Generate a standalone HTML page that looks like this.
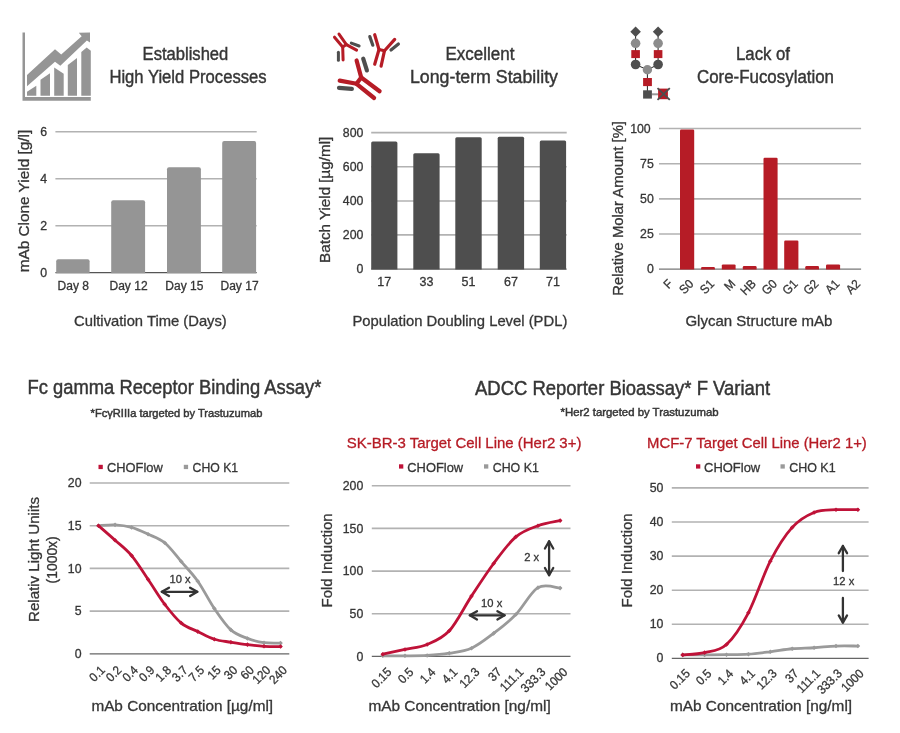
<!DOCTYPE html>
<html><head><meta charset="utf-8"><title>CHOFlow</title>
<style>
html,body{margin:0;padding:0;background:#fff;}
body{width:900px;height:733px;overflow:hidden;font-family:"Liberation Sans",sans-serif;}
svg{display:block;will-change:transform;}
svg text{font-family:"Liberation Sans",sans-serif;}
</style></head><body>
<svg width="900" height="733" viewBox="0 0 900 733">
<rect width="900" height="733" fill="#ffffff"/>
<text x="142.60" y="59.50" font-size="18" fill="#363636" stroke="#363636" stroke-width="0.42" textLength="85.70" lengthAdjust="spacingAndGlyphs">Established</text>
<text x="109.40" y="83.00" font-size="18" fill="#363636" stroke="#363636" stroke-width="0.42" textLength="157.20" lengthAdjust="spacingAndGlyphs">High Yield Processes</text>
<text x="445.50" y="59.50" font-size="18" fill="#363636" stroke="#363636" stroke-width="0.42" textLength="69.00" lengthAdjust="spacingAndGlyphs">Excellent</text>
<text x="410.00" y="83.00" font-size="18" fill="#363636" stroke="#363636" stroke-width="0.42" textLength="148.00" lengthAdjust="spacingAndGlyphs">Long-term Stability</text>
<text x="736.00" y="59.50" font-size="18" fill="#363636" stroke="#363636" stroke-width="0.42" textLength="54.00" lengthAdjust="spacingAndGlyphs">Lack of</text>
<text x="697.00" y="83.00" font-size="18" fill="#363636" stroke="#363636" stroke-width="0.42" textLength="137.00" lengthAdjust="spacingAndGlyphs">Core-Fucosylation</text>
<line x1="55.40" y1="131.80" x2="256.70" y2="131.80" stroke="#b2b2b2" stroke-width="1.6"/>
<line x1="55.40" y1="178.80" x2="256.70" y2="178.80" stroke="#b2b2b2" stroke-width="1.6"/>
<line x1="55.40" y1="225.80" x2="256.70" y2="225.80" stroke="#b2b2b2" stroke-width="1.6"/>
<line x1="55.40" y1="272.60" x2="256.70" y2="272.60" stroke="#555" stroke-width="1.2"/>
<path d="M56.20,273.20 L56.20,261.30 Q56.20,259.30 58.20,259.30 L87.60,259.30 Q89.60,259.30 89.60,261.30 L89.60,273.20 Z" fill="#959595"/>
<path d="M111.20,273.20 L111.20,202.30 Q111.20,200.30 113.20,200.30 L143.10,200.30 Q145.10,200.30 145.10,202.30 L145.10,273.20 Z" fill="#959595"/>
<path d="M167.00,273.20 L167.00,169.20 Q167.00,167.20 169.00,167.20 L198.90,167.20 Q200.90,167.20 200.90,169.20 L200.90,273.20 Z" fill="#959595"/>
<path d="M222.20,273.20 L222.20,143.00 Q222.20,141.00 224.20,141.00 L254.10,141.00 Q256.10,141.00 256.10,143.00 L256.10,273.20 Z" fill="#959595"/>
<text x="47.20" y="135.90" font-size="12.3" fill="#363636" stroke="#363636" stroke-width="0.3" text-anchor="end">6</text>
<text x="47.20" y="182.90" font-size="12.3" fill="#363636" stroke="#363636" stroke-width="0.3" text-anchor="end">4</text>
<text x="47.20" y="229.90" font-size="12.3" fill="#363636" stroke="#363636" stroke-width="0.3" text-anchor="end">2</text>
<text x="47.20" y="276.90" font-size="12.3" fill="#363636" stroke="#363636" stroke-width="0.3" text-anchor="end">0</text>
<text x="73.30" y="290.20" font-size="12" fill="#363636" stroke="#363636" stroke-width="0.3" text-anchor="middle">Day 8</text>
<text x="128.55" y="290.20" font-size="12" fill="#363636" stroke="#363636" stroke-width="0.3" text-anchor="middle">Day 12</text>
<text x="184.35" y="290.20" font-size="12" fill="#363636" stroke="#363636" stroke-width="0.3" text-anchor="middle">Day 15</text>
<text x="239.55" y="290.20" font-size="12" fill="#363636" stroke="#363636" stroke-width="0.3" text-anchor="middle">Day 17</text>
<text transform="translate(28.60,272.30) rotate(-90)" font-size="14.5" fill="#363636" stroke="#363636" stroke-width="0.3" textLength="142.50" lengthAdjust="spacingAndGlyphs">mAb Clone Yield [g/l]</text>
<text x="74.10" y="326.00" font-size="14.5" fill="#363636" stroke="#363636" stroke-width="0.3" textLength="152.70" lengthAdjust="spacingAndGlyphs">Cultivation Time (Days)</text>
<line x1="371.20" y1="132.60" x2="566.70" y2="132.60" stroke="#b2b2b2" stroke-width="1.6"/>
<line x1="371.20" y1="166.80" x2="566.70" y2="166.80" stroke="#b2b2b2" stroke-width="1.6"/>
<line x1="371.20" y1="201.00" x2="566.70" y2="201.00" stroke="#b2b2b2" stroke-width="1.6"/>
<line x1="371.20" y1="234.90" x2="566.70" y2="234.90" stroke="#b2b2b2" stroke-width="1.6"/>
<line x1="371.20" y1="269.10" x2="566.70" y2="269.10" stroke="#777" stroke-width="1.2"/>
<path d="M371.20,269.40 L371.20,142.90 Q371.20,141.40 372.70,141.40 L395.90,141.40 Q397.40,141.40 397.40,142.90 L397.40,269.40 Z" fill="#4e4e4e"/>
<path d="M413.30,269.40 L413.30,154.80 Q413.30,153.30 414.80,153.30 L438.10,153.30 Q439.60,153.30 439.60,154.80 L439.60,269.40 Z" fill="#4e4e4e"/>
<path d="M455.30,269.40 L455.30,138.80 Q455.30,137.30 456.80,137.30 L480.20,137.30 Q481.70,137.30 481.70,138.80 L481.70,269.40 Z" fill="#4e4e4e"/>
<path d="M497.70,269.40 L497.70,138.20 Q497.70,136.70 499.20,136.70 L522.60,136.70 Q524.10,136.70 524.10,138.20 L524.10,269.40 Z" fill="#4e4e4e"/>
<path d="M539.80,269.40 L539.80,141.90 Q539.80,140.40 541.30,140.40 L564.60,140.40 Q566.10,140.40 566.10,141.90 L566.10,269.40 Z" fill="#4e4e4e"/>
<text x="363.40" y="136.70" font-size="12.3" fill="#363636" stroke="#363636" stroke-width="0.3" text-anchor="end">800</text>
<text x="363.40" y="170.90" font-size="12.3" fill="#363636" stroke="#363636" stroke-width="0.3" text-anchor="end">600</text>
<text x="363.40" y="205.10" font-size="12.3" fill="#363636" stroke="#363636" stroke-width="0.3" text-anchor="end">400</text>
<text x="363.40" y="239.00" font-size="12.3" fill="#363636" stroke="#363636" stroke-width="0.3" text-anchor="end">200</text>
<text x="363.40" y="273.20" font-size="12.3" fill="#363636" stroke="#363636" stroke-width="0.3" text-anchor="end">0</text>
<text x="384.30" y="286.00" font-size="12.5" fill="#363636" stroke="#363636" stroke-width="0.3" text-anchor="middle">17</text>
<text x="426.45" y="286.00" font-size="12.5" fill="#363636" stroke="#363636" stroke-width="0.3" text-anchor="middle">33</text>
<text x="468.50" y="286.00" font-size="12.5" fill="#363636" stroke="#363636" stroke-width="0.3" text-anchor="middle">51</text>
<text x="510.90" y="286.00" font-size="12.5" fill="#363636" stroke="#363636" stroke-width="0.3" text-anchor="middle">67</text>
<text x="552.95" y="286.00" font-size="12.5" fill="#363636" stroke="#363636" stroke-width="0.3" text-anchor="middle">71</text>
<text transform="translate(329.90,262.90) rotate(-90)" font-size="14.5" fill="#363636" stroke="#363636" stroke-width="0.3" textLength="126.20" lengthAdjust="spacingAndGlyphs">Batch Yield [µg/ml]</text>
<text x="352.40" y="326.00" font-size="14.5" fill="#363636" stroke="#363636" stroke-width="0.3" textLength="215.00" lengthAdjust="spacingAndGlyphs">Population Doubling Level (PDL)</text>
<line x1="659.00" y1="128.50" x2="861.10" y2="128.50" stroke="#b2b2b2" stroke-width="1.6"/>
<line x1="659.00" y1="163.70" x2="861.10" y2="163.70" stroke="#b2b2b2" stroke-width="1.6"/>
<line x1="659.00" y1="198.90" x2="861.10" y2="198.90" stroke="#b2b2b2" stroke-width="1.6"/>
<line x1="659.00" y1="234.00" x2="861.10" y2="234.00" stroke="#b2b2b2" stroke-width="1.6"/>
<line x1="659.00" y1="269.10" x2="861.10" y2="269.10" stroke="#777" stroke-width="1.3"/>
<path d="M680.00,269.40 L680.00,130.70 Q680.00,129.50 681.20,129.50 L693.00,129.50 Q694.20,129.50 694.20,130.70 L694.20,269.40 Z" fill="#b61c26"/>
<path d="M701.10,269.40 L701.10,268.10 Q701.10,266.90 702.30,266.90 L713.70,266.90 Q714.90,266.90 714.90,268.10 L714.90,269.40 Z" fill="#b61c26"/>
<path d="M721.80,269.40 L721.80,265.60 Q721.80,264.40 723.00,264.40 L734.40,264.40 Q735.60,264.40 735.60,265.60 L735.60,269.40 Z" fill="#b61c26"/>
<path d="M742.80,269.40 L742.80,267.20 Q742.80,266.00 744.00,266.00 L755.40,266.00 Q756.60,266.00 756.60,267.20 L756.60,269.40 Z" fill="#b61c26"/>
<path d="M763.50,269.40 L763.50,158.90 Q763.50,157.70 764.70,157.70 L776.40,157.70 Q777.60,157.70 777.60,158.90 L777.60,269.40 Z" fill="#b61c26"/>
<path d="M784.20,269.40 L784.20,241.80 Q784.20,240.60 785.40,240.60 L797.20,240.60 Q798.40,240.60 798.40,241.80 L798.40,269.40 Z" fill="#b61c26"/>
<path d="M805.30,269.40 L805.30,267.20 Q805.30,266.00 806.50,266.00 L817.80,266.00 Q819.00,266.00 819.00,267.20 L819.00,269.40 Z" fill="#b61c26"/>
<path d="M826.00,269.40 L826.00,265.60 Q826.00,264.40 827.20,264.40 L838.90,264.40 Q840.10,264.40 840.10,265.60 L840.10,269.40 Z" fill="#b61c26"/>
<text x="650.70" y="132.60" font-size="12.3" fill="#363636" stroke="#363636" stroke-width="0.3" text-anchor="end">100</text>
<text x="653.80" y="167.80" font-size="12.3" fill="#363636" stroke="#363636" stroke-width="0.3" text-anchor="end">75</text>
<text x="653.80" y="203.00" font-size="12.3" fill="#363636" stroke="#363636" stroke-width="0.3" text-anchor="end">50</text>
<text x="653.80" y="238.10" font-size="12.3" fill="#363636" stroke="#363636" stroke-width="0.3" text-anchor="end">25</text>
<text x="653.80" y="273.20" font-size="12.3" fill="#363636" stroke="#363636" stroke-width="0.3" text-anchor="end">0</text>
<text transform="translate(673.40,284.60) rotate(-45) scale(0.93,1)" font-size="12.5" fill="#363636" stroke="#363636" stroke-width="0.3" text-anchor="end">F</text>
<text transform="translate(694.26,284.60) rotate(-45) scale(0.93,1)" font-size="12.5" fill="#363636" stroke="#363636" stroke-width="0.3" text-anchor="end">S0</text>
<text transform="translate(715.12,284.60) rotate(-45) scale(0.93,1)" font-size="12.5" fill="#363636" stroke="#363636" stroke-width="0.3" text-anchor="end">S1</text>
<text transform="translate(735.98,284.60) rotate(-45) scale(0.93,1)" font-size="12.5" fill="#363636" stroke="#363636" stroke-width="0.3" text-anchor="end">M</text>
<text transform="translate(756.84,284.60) rotate(-45) scale(0.93,1)" font-size="12.5" fill="#363636" stroke="#363636" stroke-width="0.3" text-anchor="end">HB</text>
<text transform="translate(777.70,284.60) rotate(-45) scale(0.93,1)" font-size="12.5" fill="#363636" stroke="#363636" stroke-width="0.3" text-anchor="end">G0</text>
<text transform="translate(798.56,284.60) rotate(-45) scale(0.93,1)" font-size="12.5" fill="#363636" stroke="#363636" stroke-width="0.3" text-anchor="end">G1</text>
<text transform="translate(819.42,284.60) rotate(-45) scale(0.93,1)" font-size="12.5" fill="#363636" stroke="#363636" stroke-width="0.3" text-anchor="end">G2</text>
<text transform="translate(840.28,284.60) rotate(-45) scale(0.93,1)" font-size="12.5" fill="#363636" stroke="#363636" stroke-width="0.3" text-anchor="end">A1</text>
<text transform="translate(861.14,284.60) rotate(-45) scale(0.93,1)" font-size="12.5" fill="#363636" stroke="#363636" stroke-width="0.3" text-anchor="end">A2</text>
<text transform="translate(623.10,295.80) rotate(-90)" font-size="14.5" fill="#363636" stroke="#363636" stroke-width="0.3" textLength="174.80" lengthAdjust="spacingAndGlyphs">Relative Molar Amount [%]</text>
<text x="685.40" y="326.00" font-size="14.5" fill="#363636" stroke="#363636" stroke-width="0.3" textLength="146.90" lengthAdjust="spacingAndGlyphs">Glycan Structure mAb</text>
<text x="27.60" y="394.20" font-size="19.3" fill="#363636" stroke="#363636" stroke-width="0.45" textLength="293.80" lengthAdjust="spacingAndGlyphs">Fc gamma Receptor Binding Assay*</text>
<text x="90.60" y="416.50" font-size="10.5" fill="#363636" stroke="#363636" stroke-width="0.45" textLength="171.80" lengthAdjust="spacingAndGlyphs">*FcγRIIIa targeted by Trastuzumab</text>
<text x="475.00" y="395.00" font-size="19.3" fill="#363636" stroke="#363636" stroke-width="0.45" textLength="295.20" lengthAdjust="spacingAndGlyphs">ADCC Reporter Bioassay* F Variant</text>
<text x="560.50" y="416.30" font-size="10.5" fill="#363636" stroke="#363636" stroke-width="0.45" textLength="158.10" lengthAdjust="spacingAndGlyphs">*Her2 targeted by Trastuzumab</text>
<text x="346.80" y="448.30" font-size="14.4" fill="#b61c26" stroke="#b61c26" stroke-width="0.3" textLength="234.60" lengthAdjust="spacingAndGlyphs">SK-BR-3 Target Cell Line (Her2 3+)</text>
<text x="647.10" y="448.30" font-size="14.4" fill="#b61c26" stroke="#b61c26" stroke-width="0.3" textLength="219.70" lengthAdjust="spacingAndGlyphs">MCF-7 Target Cell Line (Her2 1+)</text>
<rect x="98.50" y="464.80" width="4.3" height="4.3" fill="#bf1238"/>
<text x="107.00" y="472.00" font-size="13" fill="#363636" stroke="#363636" stroke-width="0.3" textLength="55.80" lengthAdjust="spacingAndGlyphs">CHOFlow</text>
<rect x="183.80" y="464.80" width="4.3" height="4.3" fill="#9a9a9a"/>
<text x="192.60" y="472.00" font-size="13" fill="#363636" stroke="#363636" stroke-width="0.3" textLength="45.50" lengthAdjust="spacingAndGlyphs">CHO K1</text>
<rect x="399.00" y="464.30" width="4.3" height="4.3" fill="#bf1238"/>
<text x="407.30" y="471.50" font-size="13" fill="#363636" stroke="#363636" stroke-width="0.3" textLength="55.80" lengthAdjust="spacingAndGlyphs">CHOFlow</text>
<rect x="484.00" y="464.30" width="4.3" height="4.3" fill="#9a9a9a"/>
<text x="492.70" y="471.50" font-size="13" fill="#363636" stroke="#363636" stroke-width="0.3" textLength="46.10" lengthAdjust="spacingAndGlyphs">CHO K1</text>
<rect x="696.00" y="464.30" width="4.3" height="4.3" fill="#bf1238"/>
<text x="704.10" y="471.50" font-size="13" fill="#363636" stroke="#363636" stroke-width="0.3" textLength="56.10" lengthAdjust="spacingAndGlyphs">CHOFlow</text>
<rect x="780.50" y="464.30" width="4.3" height="4.3" fill="#9a9a9a"/>
<text x="789.20" y="471.50" font-size="13" fill="#363636" stroke="#363636" stroke-width="0.3" textLength="46.40" lengthAdjust="spacingAndGlyphs">CHO K1</text>
<line x1="89.70" y1="483.00" x2="289.30" y2="483.00" stroke="#b2b2b2" stroke-width="1.6"/>
<line x1="89.70" y1="525.70" x2="289.30" y2="525.70" stroke="#b2b2b2" stroke-width="1.6"/>
<line x1="89.70" y1="568.40" x2="289.30" y2="568.40" stroke="#b2b2b2" stroke-width="1.6"/>
<line x1="89.70" y1="611.10" x2="289.30" y2="611.10" stroke="#b2b2b2" stroke-width="1.6"/>
<line x1="89.70" y1="653.80" x2="289.30" y2="653.80" stroke="#666" stroke-width="1.3"/>
<path d="M98.50,525.70 C101.26,525.56 109.53,524.56 115.05,524.85 C120.57,525.13 126.08,525.84 131.60,527.41 C137.12,528.97 142.63,531.68 148.15,534.24 C153.67,536.80 159.18,538.23 164.70,542.78 C170.22,547.33 175.73,555.16 181.25,561.57 C186.77,567.97 192.28,573.38 197.80,581.21 C203.32,589.04 208.83,600.42 214.35,608.54 C219.87,616.65 225.38,624.91 230.90,629.89 C236.42,634.87 241.93,636.29 247.45,638.43 C252.97,640.56 258.48,641.92 264.00,642.70 C269.52,643.48 277.79,643.05 280.55,643.12" fill="none" stroke="#9a9a9a" stroke-width="2.8" stroke-linecap="round" stroke-linejoin="round"/>
<path d="M96.20,525.70 L98.50,523.40 L100.80,525.70 L98.50,528.00 Z" fill="#9a9a9a"/>
<path d="M112.75,524.85 L115.05,522.55 L117.35,524.85 L115.05,527.15 Z" fill="#9a9a9a"/>
<path d="M129.30,527.41 L131.60,525.11 L133.90,527.41 L131.60,529.71 Z" fill="#9a9a9a"/>
<path d="M145.85,534.24 L148.15,531.94 L150.45,534.24 L148.15,536.54 Z" fill="#9a9a9a"/>
<path d="M162.40,542.78 L164.70,540.48 L167.00,542.78 L164.70,545.08 Z" fill="#9a9a9a"/>
<path d="M178.95,561.57 L181.25,559.27 L183.55,561.57 L181.25,563.87 Z" fill="#9a9a9a"/>
<path d="M195.50,581.21 L197.80,578.91 L200.10,581.21 L197.80,583.51 Z" fill="#9a9a9a"/>
<path d="M212.05,608.54 L214.35,606.24 L216.65,608.54 L214.35,610.84 Z" fill="#9a9a9a"/>
<path d="M228.60,629.89 L230.90,627.59 L233.20,629.89 L230.90,632.19 Z" fill="#9a9a9a"/>
<path d="M245.15,638.43 L247.45,636.13 L249.75,638.43 L247.45,640.73 Z" fill="#9a9a9a"/>
<path d="M261.70,642.70 L264.00,640.40 L266.30,642.70 L264.00,645.00 Z" fill="#9a9a9a"/>
<path d="M278.25,643.12 L280.55,640.83 L282.85,643.12 L280.55,645.42 Z" fill="#9a9a9a"/>
<path d="M98.50,525.70 C101.26,528.12 109.53,535.24 115.05,540.22 C120.57,545.20 126.08,549.04 131.60,555.59 C137.12,562.14 142.63,571.39 148.15,579.50 C153.67,587.62 159.18,597.01 164.70,604.27 C170.22,611.53 175.73,618.50 181.25,623.06 C186.77,627.61 192.28,628.89 197.80,631.60 C203.32,634.30 208.83,637.52 214.35,639.28 C219.87,641.05 225.38,641.29 230.90,642.19 C236.42,643.08 241.93,643.98 247.45,644.66 C252.97,645.35 258.48,645.97 264.00,646.28 C269.52,646.60 277.79,646.50 280.55,646.54" fill="none" stroke="#bf1238" stroke-width="2.8" stroke-linecap="round" stroke-linejoin="round"/>
<path d="M96.20,525.70 L98.50,523.40 L100.80,525.70 L98.50,528.00 Z" fill="#bf1238"/>
<path d="M112.75,540.22 L115.05,537.92 L117.35,540.22 L115.05,542.52 Z" fill="#bf1238"/>
<path d="M129.30,555.59 L131.60,553.29 L133.90,555.59 L131.60,557.89 Z" fill="#bf1238"/>
<path d="M145.85,579.50 L148.15,577.20 L150.45,579.50 L148.15,581.80 Z" fill="#bf1238"/>
<path d="M162.40,604.27 L164.70,601.97 L167.00,604.27 L164.70,606.57 Z" fill="#bf1238"/>
<path d="M178.95,623.06 L181.25,620.76 L183.55,623.06 L181.25,625.36 Z" fill="#bf1238"/>
<path d="M195.50,631.60 L197.80,629.30 L200.10,631.60 L197.80,633.90 Z" fill="#bf1238"/>
<path d="M212.05,639.28 L214.35,636.98 L216.65,639.28 L214.35,641.58 Z" fill="#bf1238"/>
<path d="M228.60,642.19 L230.90,639.89 L233.20,642.19 L230.90,644.49 Z" fill="#bf1238"/>
<path d="M245.15,644.66 L247.45,642.36 L249.75,644.66 L247.45,646.96 Z" fill="#bf1238"/>
<path d="M261.70,646.28 L264.00,643.98 L266.30,646.28 L264.00,648.58 Z" fill="#bf1238"/>
<path d="M278.25,646.54 L280.55,644.24 L282.85,646.54 L280.55,648.84 Z" fill="#bf1238"/>
<text x="81.50" y="487.10" font-size="12.3" fill="#363636" stroke="#363636" stroke-width="0.3" text-anchor="end">20</text>
<text x="81.50" y="529.80" font-size="12.3" fill="#363636" stroke="#363636" stroke-width="0.3" text-anchor="end">15</text>
<text x="81.50" y="572.50" font-size="12.3" fill="#363636" stroke="#363636" stroke-width="0.3" text-anchor="end">10</text>
<text x="81.50" y="615.20" font-size="12.3" fill="#363636" stroke="#363636" stroke-width="0.3" text-anchor="end">5</text>
<text x="81.50" y="657.90" font-size="12.3" fill="#363636" stroke="#363636" stroke-width="0.3" text-anchor="end">0</text>
<text transform="translate(105.80,671.00) rotate(-45) scale(0.93,1)" font-size="12.5" fill="#363636" stroke="#363636" stroke-width="0.3" text-anchor="end">0.1</text>
<text transform="translate(122.35,671.00) rotate(-45) scale(0.93,1)" font-size="12.5" fill="#363636" stroke="#363636" stroke-width="0.3" text-anchor="end">0.2</text>
<text transform="translate(138.90,671.00) rotate(-45) scale(0.93,1)" font-size="12.5" fill="#363636" stroke="#363636" stroke-width="0.3" text-anchor="end">0.4</text>
<text transform="translate(155.45,671.00) rotate(-45) scale(0.93,1)" font-size="12.5" fill="#363636" stroke="#363636" stroke-width="0.3" text-anchor="end">0.9</text>
<text transform="translate(172.00,671.00) rotate(-45) scale(0.93,1)" font-size="12.5" fill="#363636" stroke="#363636" stroke-width="0.3" text-anchor="end">1.8</text>
<text transform="translate(188.55,671.00) rotate(-45) scale(0.93,1)" font-size="12.5" fill="#363636" stroke="#363636" stroke-width="0.3" text-anchor="end">3.7</text>
<text transform="translate(205.10,671.00) rotate(-45) scale(0.93,1)" font-size="12.5" fill="#363636" stroke="#363636" stroke-width="0.3" text-anchor="end">7.5</text>
<text transform="translate(221.65,671.00) rotate(-45) scale(0.93,1)" font-size="12.5" fill="#363636" stroke="#363636" stroke-width="0.3" text-anchor="end">15</text>
<text transform="translate(238.20,671.00) rotate(-45) scale(0.93,1)" font-size="12.5" fill="#363636" stroke="#363636" stroke-width="0.3" text-anchor="end">30</text>
<text transform="translate(254.75,671.00) rotate(-45) scale(0.93,1)" font-size="12.5" fill="#363636" stroke="#363636" stroke-width="0.3" text-anchor="end">60</text>
<text transform="translate(271.30,671.00) rotate(-45) scale(0.93,1)" font-size="12.5" fill="#363636" stroke="#363636" stroke-width="0.3" text-anchor="end">120</text>
<text transform="translate(287.85,671.00) rotate(-45) scale(0.93,1)" font-size="12.5" fill="#363636" stroke="#363636" stroke-width="0.3" text-anchor="end">240</text>
<text transform="translate(39.20,622.00) rotate(-90)" font-size="14.5" fill="#363636" stroke="#363636" stroke-width="0.3" textLength="125.00" lengthAdjust="spacingAndGlyphs">Relativ Light Uniits</text>
<text transform="translate(57.40,583.40) rotate(-90)" font-size="14.5" fill="#363636" stroke="#363636" stroke-width="0.3" textLength="47.10" lengthAdjust="spacingAndGlyphs">(1000x)</text>
<text x="91.40" y="710.60" font-size="14.5" fill="#363636" stroke="#363636" stroke-width="0.3" textLength="181.70" lengthAdjust="spacingAndGlyphs">mAb Concentration [µg/ml]</text>
<line x1="161.80" y1="591.80" x2="197.30" y2="591.80" stroke="#333" stroke-width="2.3" stroke-linecap="round"/>
<path d="M190.11,595.95 L197.30,591.80 L190.11,587.65" fill="none" stroke="#333" stroke-width="2.3" stroke-linecap="round" stroke-linejoin="round"/>
<path d="M168.99,587.65 L161.80,591.80 L168.99,595.95" fill="none" stroke="#333" stroke-width="2.3" stroke-linecap="round" stroke-linejoin="round"/>
<text x="180.00" y="582.50" font-size="11.2" fill="#363636" stroke="#363636" stroke-width="0.3" text-anchor="middle">10 x</text>
<line x1="371.80" y1="485.70" x2="570.50" y2="485.70" stroke="#b2b2b2" stroke-width="1.6"/>
<line x1="371.80" y1="528.40" x2="570.50" y2="528.40" stroke="#b2b2b2" stroke-width="1.6"/>
<line x1="371.80" y1="571.10" x2="570.50" y2="571.10" stroke="#b2b2b2" stroke-width="1.6"/>
<line x1="371.80" y1="613.80" x2="570.50" y2="613.80" stroke="#b2b2b2" stroke-width="1.6"/>
<line x1="371.80" y1="656.40" x2="570.50" y2="656.40" stroke="#666" stroke-width="1.3"/>
<path d="M382.80,655.80 C386.50,655.80 397.58,655.86 404.97,655.80 C412.36,655.75 419.75,655.89 427.14,655.46 C434.53,655.03 441.92,654.45 449.31,653.24 C456.70,652.03 464.09,651.52 471.48,648.20 C478.87,644.89 486.26,638.95 493.65,633.34 C501.04,627.73 508.43,622.17 515.82,614.55 C523.21,606.94 530.60,592.07 537.99,587.65 C545.38,583.24 556.47,588.01 560.16,588.08" fill="none" stroke="#9a9a9a" stroke-width="2.8" stroke-linecap="round" stroke-linejoin="round"/>
<path d="M380.50,655.80 L382.80,653.50 L385.10,655.80 L382.80,658.10 Z" fill="#9a9a9a"/>
<path d="M402.67,655.80 L404.97,653.50 L407.27,655.80 L404.97,658.10 Z" fill="#9a9a9a"/>
<path d="M424.84,655.46 L427.14,653.16 L429.44,655.46 L427.14,657.76 Z" fill="#9a9a9a"/>
<path d="M447.01,653.24 L449.31,650.94 L451.61,653.24 L449.31,655.54 Z" fill="#9a9a9a"/>
<path d="M469.18,648.20 L471.48,645.90 L473.78,648.20 L471.48,650.50 Z" fill="#9a9a9a"/>
<path d="M491.35,633.34 L493.65,631.04 L495.95,633.34 L493.65,635.64 Z" fill="#9a9a9a"/>
<path d="M513.52,614.55 L515.82,612.25 L518.12,614.55 L515.82,616.85 Z" fill="#9a9a9a"/>
<path d="M535.69,587.65 L537.99,585.35 L540.29,587.65 L537.99,589.95 Z" fill="#9a9a9a"/>
<path d="M557.86,588.08 L560.16,585.78 L562.46,588.08 L560.16,590.38 Z" fill="#9a9a9a"/>
<path d="M382.80,654.18 C386.50,653.40 397.58,651.11 404.97,649.48 C412.36,647.86 419.75,647.56 427.14,644.44 C434.53,641.33 441.92,638.84 449.31,630.78 C456.70,622.72 464.09,607.32 471.48,596.11 C478.87,584.89 486.26,573.36 493.65,563.48 C501.04,553.61 508.43,543.13 515.82,536.84 C523.21,530.55 530.60,528.44 537.99,525.74 C545.38,523.03 556.47,521.47 560.16,520.61" fill="none" stroke="#bf1238" stroke-width="2.8" stroke-linecap="round" stroke-linejoin="round"/>
<path d="M380.50,654.18 L382.80,651.88 L385.10,654.18 L382.80,656.48 Z" fill="#bf1238"/>
<path d="M402.67,649.48 L404.97,647.18 L407.27,649.48 L404.97,651.78 Z" fill="#bf1238"/>
<path d="M424.84,644.44 L427.14,642.14 L429.44,644.44 L427.14,646.74 Z" fill="#bf1238"/>
<path d="M447.01,630.78 L449.31,628.48 L451.61,630.78 L449.31,633.08 Z" fill="#bf1238"/>
<path d="M469.18,596.11 L471.48,593.81 L473.78,596.11 L471.48,598.41 Z" fill="#bf1238"/>
<path d="M491.35,563.48 L493.65,561.18 L495.95,563.48 L493.65,565.78 Z" fill="#bf1238"/>
<path d="M513.52,536.84 L515.82,534.54 L518.12,536.84 L515.82,539.14 Z" fill="#bf1238"/>
<path d="M535.69,525.74 L537.99,523.44 L540.29,525.74 L537.99,528.04 Z" fill="#bf1238"/>
<path d="M557.86,520.61 L560.16,518.31 L562.46,520.61 L560.16,522.91 Z" fill="#bf1238"/>
<text x="363.30" y="489.80" font-size="12.3" fill="#363636" stroke="#363636" stroke-width="0.3" text-anchor="end">200</text>
<text x="363.30" y="532.50" font-size="12.3" fill="#363636" stroke="#363636" stroke-width="0.3" text-anchor="end">150</text>
<text x="363.30" y="575.20" font-size="12.3" fill="#363636" stroke="#363636" stroke-width="0.3" text-anchor="end">100</text>
<text x="363.30" y="617.90" font-size="12.3" fill="#363636" stroke="#363636" stroke-width="0.3" text-anchor="end">50</text>
<text x="363.30" y="660.50" font-size="12.3" fill="#363636" stroke="#363636" stroke-width="0.3" text-anchor="end">0</text>
<text transform="translate(392.40,672.80) rotate(-45) scale(0.93,1)" font-size="12.5" fill="#363636" stroke="#363636" stroke-width="0.3" text-anchor="end">0.15</text>
<text transform="translate(414.40,672.80) rotate(-45) scale(0.93,1)" font-size="12.5" fill="#363636" stroke="#363636" stroke-width="0.3" text-anchor="end">0.5</text>
<text transform="translate(436.40,672.80) rotate(-45) scale(0.93,1)" font-size="12.5" fill="#363636" stroke="#363636" stroke-width="0.3" text-anchor="end">1.4</text>
<text transform="translate(458.40,672.80) rotate(-45) scale(0.93,1)" font-size="12.5" fill="#363636" stroke="#363636" stroke-width="0.3" text-anchor="end">4.1</text>
<text transform="translate(480.40,672.80) rotate(-45) scale(0.93,1)" font-size="12.5" fill="#363636" stroke="#363636" stroke-width="0.3" text-anchor="end">12.3</text>
<text transform="translate(502.40,672.80) rotate(-45) scale(0.93,1)" font-size="12.5" fill="#363636" stroke="#363636" stroke-width="0.3" text-anchor="end">37</text>
<text transform="translate(524.40,672.80) rotate(-45) scale(0.93,1)" font-size="12.5" fill="#363636" stroke="#363636" stroke-width="0.3" text-anchor="end">111.1</text>
<text transform="translate(546.40,672.80) rotate(-45) scale(0.93,1)" font-size="12.5" fill="#363636" stroke="#363636" stroke-width="0.3" text-anchor="end">333.3</text>
<text transform="translate(568.40,672.80) rotate(-45) scale(0.93,1)" font-size="12.5" fill="#363636" stroke="#363636" stroke-width="0.3" text-anchor="end">1000</text>
<text transform="translate(332.00,607.50) rotate(-90)" font-size="14.5" fill="#363636" stroke="#363636" stroke-width="0.3" textLength="94.20" lengthAdjust="spacingAndGlyphs">Fold Induction</text>
<text x="368.40" y="710.60" font-size="14.5" fill="#363636" stroke="#363636" stroke-width="0.3" textLength="182.30" lengthAdjust="spacingAndGlyphs">mAb Concentration [ng/ml]</text>
<line x1="469.80" y1="615.30" x2="504.60" y2="615.30" stroke="#333" stroke-width="2.3" stroke-linecap="round"/>
<path d="M497.41,619.45 L504.60,615.30 L497.41,611.15" fill="none" stroke="#333" stroke-width="2.3" stroke-linecap="round" stroke-linejoin="round"/>
<path d="M476.99,611.15 L469.80,615.30 L476.99,619.45" fill="none" stroke="#333" stroke-width="2.3" stroke-linecap="round" stroke-linejoin="round"/>
<text x="491.70" y="607.20" font-size="11.2" fill="#363636" stroke="#363636" stroke-width="0.3" text-anchor="middle">10 x</text>
<line x1="549.10" y1="541.30" x2="549.10" y2="575.20" stroke="#333" stroke-width="2.3" stroke-linecap="round"/>
<path d="M544.95,568.01 L549.10,575.20 L553.25,568.01" fill="none" stroke="#333" stroke-width="2.3" stroke-linecap="round" stroke-linejoin="round"/>
<path d="M553.25,548.49 L549.10,541.30 L544.95,548.49" fill="none" stroke="#333" stroke-width="2.3" stroke-linecap="round" stroke-linejoin="round"/>
<text x="531.70" y="561.00" font-size="11.2" fill="#363636" stroke="#363636" stroke-width="0.3" text-anchor="middle">2 x</text>
<line x1="671.80" y1="487.90" x2="868.60" y2="487.90" stroke="#b2b2b2" stroke-width="1.6"/>
<line x1="671.80" y1="522.00" x2="868.60" y2="522.00" stroke="#b2b2b2" stroke-width="1.6"/>
<line x1="671.80" y1="556.10" x2="868.60" y2="556.10" stroke="#b2b2b2" stroke-width="1.6"/>
<line x1="671.80" y1="590.20" x2="868.60" y2="590.20" stroke="#b2b2b2" stroke-width="1.6"/>
<line x1="671.80" y1="624.20" x2="868.60" y2="624.20" stroke="#b2b2b2" stroke-width="1.6"/>
<line x1="671.80" y1="658.30" x2="868.60" y2="658.30" stroke="#666" stroke-width="1.3"/>
<path d="M682.70,654.89 C686.35,654.89 697.30,654.92 704.60,654.89 C711.90,654.86 719.20,654.84 726.50,654.72 C733.80,654.61 741.10,654.69 748.40,654.21 C755.70,653.73 763.00,652.73 770.30,651.82 C777.60,650.92 784.90,649.44 792.20,648.76 C799.50,648.08 806.80,648.19 814.10,647.74 C821.40,647.28 828.70,646.32 836.00,646.03 C843.30,645.75 854.25,646.03 857.90,646.03" fill="none" stroke="#9a9a9a" stroke-width="2.8" stroke-linecap="round" stroke-linejoin="round"/>
<path d="M680.40,654.89 L682.70,652.59 L685.00,654.89 L682.70,657.19 Z" fill="#9a9a9a"/>
<path d="M702.30,654.89 L704.60,652.59 L706.90,654.89 L704.60,657.19 Z" fill="#9a9a9a"/>
<path d="M724.20,654.72 L726.50,652.42 L728.80,654.72 L726.50,657.02 Z" fill="#9a9a9a"/>
<path d="M746.10,654.21 L748.40,651.91 L750.70,654.21 L748.40,656.51 Z" fill="#9a9a9a"/>
<path d="M768.00,651.82 L770.30,649.52 L772.60,651.82 L770.30,654.12 Z" fill="#9a9a9a"/>
<path d="M789.90,648.76 L792.20,646.46 L794.50,648.76 L792.20,651.06 Z" fill="#9a9a9a"/>
<path d="M811.80,647.74 L814.10,645.44 L816.40,647.74 L814.10,650.04 Z" fill="#9a9a9a"/>
<path d="M833.70,646.03 L836.00,643.73 L838.30,646.03 L836.00,648.33 Z" fill="#9a9a9a"/>
<path d="M855.60,646.03 L857.90,643.73 L860.20,646.03 L857.90,648.33 Z" fill="#9a9a9a"/>
<path d="M682.70,654.89 C686.35,654.52 697.30,654.38 704.60,652.64 C711.90,650.91 719.20,651.14 726.50,644.50 C733.80,637.86 741.10,626.69 748.40,612.80 C755.70,598.92 763.00,575.40 770.30,561.17 C777.60,546.94 784.90,535.56 792.20,527.43 C799.50,519.31 806.80,515.39 814.10,512.44 C821.40,509.48 828.70,510.17 836.00,509.71 C843.30,509.26 854.25,509.71 857.90,509.71" fill="none" stroke="#bf1238" stroke-width="2.8" stroke-linecap="round" stroke-linejoin="round"/>
<path d="M680.40,654.89 L682.70,652.59 L685.00,654.89 L682.70,657.19 Z" fill="#bf1238"/>
<path d="M702.30,652.64 L704.60,650.34 L706.90,652.64 L704.60,654.94 Z" fill="#bf1238"/>
<path d="M724.20,644.50 L726.50,642.20 L728.80,644.50 L726.50,646.80 Z" fill="#bf1238"/>
<path d="M746.10,612.80 L748.40,610.50 L750.70,612.80 L748.40,615.10 Z" fill="#bf1238"/>
<path d="M768.00,561.17 L770.30,558.87 L772.60,561.17 L770.30,563.47 Z" fill="#bf1238"/>
<path d="M789.90,527.43 L792.20,525.13 L794.50,527.43 L792.20,529.73 Z" fill="#bf1238"/>
<path d="M811.80,512.44 L814.10,510.14 L816.40,512.44 L814.10,514.74 Z" fill="#bf1238"/>
<path d="M833.70,509.71 L836.00,507.41 L838.30,509.71 L836.00,512.01 Z" fill="#bf1238"/>
<path d="M855.60,509.71 L857.90,507.41 L860.20,509.71 L857.90,512.01 Z" fill="#bf1238"/>
<text x="663.40" y="492.00" font-size="12.3" fill="#363636" stroke="#363636" stroke-width="0.3" text-anchor="end">50</text>
<text x="663.40" y="526.10" font-size="12.3" fill="#363636" stroke="#363636" stroke-width="0.3" text-anchor="end">40</text>
<text x="663.40" y="560.20" font-size="12.3" fill="#363636" stroke="#363636" stroke-width="0.3" text-anchor="end">30</text>
<text x="663.40" y="594.30" font-size="12.3" fill="#363636" stroke="#363636" stroke-width="0.3" text-anchor="end">20</text>
<text x="663.40" y="628.30" font-size="12.3" fill="#363636" stroke="#363636" stroke-width="0.3" text-anchor="end">10</text>
<text x="663.40" y="662.40" font-size="12.3" fill="#363636" stroke="#363636" stroke-width="0.3" text-anchor="end">0</text>
<text transform="translate(690.70,674.30) rotate(-45) scale(0.93,1)" font-size="12.5" fill="#363636" stroke="#363636" stroke-width="0.3" text-anchor="end">0.15</text>
<text transform="translate(712.42,674.30) rotate(-45) scale(0.93,1)" font-size="12.5" fill="#363636" stroke="#363636" stroke-width="0.3" text-anchor="end">0.5</text>
<text transform="translate(734.14,674.30) rotate(-45) scale(0.93,1)" font-size="12.5" fill="#363636" stroke="#363636" stroke-width="0.3" text-anchor="end">1.4</text>
<text transform="translate(755.86,674.30) rotate(-45) scale(0.93,1)" font-size="12.5" fill="#363636" stroke="#363636" stroke-width="0.3" text-anchor="end">4.1</text>
<text transform="translate(777.58,674.30) rotate(-45) scale(0.93,1)" font-size="12.5" fill="#363636" stroke="#363636" stroke-width="0.3" text-anchor="end">12.3</text>
<text transform="translate(799.30,674.30) rotate(-45) scale(0.93,1)" font-size="12.5" fill="#363636" stroke="#363636" stroke-width="0.3" text-anchor="end">37</text>
<text transform="translate(821.02,674.30) rotate(-45) scale(0.93,1)" font-size="12.5" fill="#363636" stroke="#363636" stroke-width="0.3" text-anchor="end">111.1</text>
<text transform="translate(842.74,674.30) rotate(-45) scale(0.93,1)" font-size="12.5" fill="#363636" stroke="#363636" stroke-width="0.3" text-anchor="end">333.3</text>
<text transform="translate(864.46,674.30) rotate(-45) scale(0.93,1)" font-size="12.5" fill="#363636" stroke="#363636" stroke-width="0.3" text-anchor="end">1000</text>
<text transform="translate(631.90,607.50) rotate(-90)" font-size="14.5" fill="#363636" stroke="#363636" stroke-width="0.3" textLength="94.20" lengthAdjust="spacingAndGlyphs">Fold Induction</text>
<text x="669.90" y="710.60" font-size="14.5" fill="#363636" stroke="#363636" stroke-width="0.3" textLength="182.20" lengthAdjust="spacingAndGlyphs">mAb Concentration [ng/ml]</text>
<line x1="842.90" y1="571.00" x2="842.90" y2="546.00" stroke="#333" stroke-width="2.3" stroke-linecap="round"/>
<path d="M847.05,553.19 L842.90,546.00 L838.75,553.19" fill="none" stroke="#333" stroke-width="2.3" stroke-linecap="round" stroke-linejoin="round"/>
<line x1="842.90" y1="598.00" x2="842.90" y2="622.60" stroke="#333" stroke-width="2.3" stroke-linecap="round"/>
<path d="M838.75,615.41 L842.90,622.60 L847.05,615.41" fill="none" stroke="#333" stroke-width="2.3" stroke-linecap="round" stroke-linejoin="round"/>
<text x="843.70" y="584.60" font-size="11.2" fill="#363636" stroke="#363636" stroke-width="0.3" text-anchor="middle">12 x</text>
<path d="M22.5,32.5 H25 V97 H90.8 V100.8 H22.5 Z" fill="#959595"/>
<polygon points="27.00,95.80 27.00,91.70 36.30,85.80 36.30,95.80" fill="#959595"/>
<polygon points="40.50,95.80 40.50,79.70 50.00,73.30 50.00,95.80" fill="#959595"/>
<polygon points="54.20,95.80 54.20,67.50 63.70,73.70 63.70,95.80" fill="#959595"/>
<polygon points="67.80,95.80 67.80,65.00 77.00,58.00 77.00,95.80" fill="#959595"/>
<polygon points="81.30,95.80 81.30,52.00 86.70,47.50 90.80,50.80 90.80,95.80" fill="#959595"/>
<polygon points="27.00,75.00 55.00,49.20 61.20,54.50 81.70,36.20 78.80,32.70 90.00,32.50 90.00,42.60 86.90,40.50 60.30,65.80 55.00,61.70 27.00,86.30" fill="#959595"/>
<polyline points="334.50,37.20 342.70,47.00 343.10,59.90" fill="none" stroke="#b61c26" stroke-width="3" stroke-linecap="round" stroke-linejoin="round"/>
<polyline points="339.00,34.10 346.40,44.60 356.60,50.10" fill="none" stroke="#b61c26" stroke-width="3" stroke-linecap="round" stroke-linejoin="round"/>
<polyline points="338.40,52.20 338.40,60.30" fill="none" stroke="#4e4e4e" stroke-width="3" stroke-linecap="round" stroke-linejoin="round"/>
<polyline points="351.30,43.10 359.10,46.00" fill="none" stroke="#4e4e4e" stroke-width="3" stroke-linecap="round" stroke-linejoin="round"/>
<polyline points="342.70,47.00 346.40,44.60" fill="none" stroke="#b61c26" stroke-width="3" stroke-linecap="round" stroke-linejoin="round"/>
<polyline points="374.70,64.20 379.00,49.50 374.70,34.70" fill="none" stroke="#b61c26" stroke-width="3.2" stroke-linecap="round" stroke-linejoin="round"/>
<polyline points="381.10,66.10 384.50,50.70 394.70,39.40" fill="none" stroke="#b61c26" stroke-width="3.2" stroke-linecap="round" stroke-linejoin="round"/>
<polyline points="369.80,36.60 372.80,45.20" fill="none" stroke="#4e4e4e" stroke-width="3.2" stroke-linecap="round" stroke-linejoin="round"/>
<polyline points="391.00,50.10 398.40,44.00" fill="none" stroke="#4e4e4e" stroke-width="3.2" stroke-linecap="round" stroke-linejoin="round"/>
<polyline points="379.00,49.50 384.50,50.70" fill="none" stroke="#b61c26" stroke-width="3.2" stroke-linecap="round" stroke-linejoin="round"/>
<polyline points="379.60,91.30 361.20,77.50 356.60,60.50" fill="none" stroke="#b61c26" stroke-width="4.2" stroke-linecap="round" stroke-linejoin="round"/>
<polyline points="374.10,98.00 356.50,83.80 339.70,80.60" fill="none" stroke="#b61c26" stroke-width="4.2" stroke-linecap="round" stroke-linejoin="round"/>
<polyline points="361.20,77.50 356.50,83.80" fill="none" stroke="#b61c26" stroke-width="4.2" stroke-linecap="round" stroke-linejoin="round"/>
<polyline points="363.20,58.70 366.90,70.40" fill="none" stroke="#4e4e4e" stroke-width="4.2" stroke-linecap="round" stroke-linejoin="round"/>
<polyline points="339.00,87.80 351.90,88.80" fill="none" stroke="#4e4e4e" stroke-width="4.2" stroke-linecap="round" stroke-linejoin="round"/>
<line x1="635.6" y1="31.7" x2="635.6" y2="64.5" stroke="#222" stroke-width="1"/>
<line x1="658.1" y1="31.7" x2="658.1" y2="64.5" stroke="#222" stroke-width="1"/>
<line x1="635.6" y1="64.5" x2="647.4" y2="69.8" stroke="#222" stroke-width="1"/>
<line x1="658.1" y1="64.5" x2="647.4" y2="69.8" stroke="#222" stroke-width="1"/>
<line x1="647.4" y1="69.8" x2="647.4" y2="94" stroke="#222" stroke-width="1"/>
<line x1="652" y1="94.3" x2="658.5" y2="94.3" stroke="#999" stroke-width="2"/>
<polygon points="635.60,26.50 640.90,31.70 635.60,36.90 630.30,31.70" fill="#4e4e4e"/>
<circle cx="635.6" cy="43.3" r="4.8" fill="#8c8c8c"/>
<rect x="631.3000000000001" y="50.1" width="8.6" height="8" fill="#b61c26"/>
<circle cx="635.6" cy="64.5" r="4.8" fill="#4e4e4e"/>
<polygon points="658.10,26.50 663.40,31.70 658.10,36.90 652.80,31.70" fill="#4e4e4e"/>
<circle cx="658.1" cy="43.3" r="4.8" fill="#8c8c8c"/>
<rect x="653.8000000000001" y="50.1" width="8.6" height="8" fill="#b61c26"/>
<circle cx="658.1" cy="64.5" r="4.8" fill="#4e4e4e"/>
<circle cx="647.4" cy="69.8" r="4.7" fill="#8c8c8c"/>
<rect x="643.1" y="78" width="8.8" height="8.1" fill="#b61c26"/>
<rect x="643.1" y="90.3" width="8.8" height="8.3" fill="#4e4e4e"/>
<rect x="658.1" y="88.6" width="9.8" height="10.6" fill="#b61c26"/>
<line x1="657.5" y1="88.2" x2="669.8" y2="99.9" stroke="#4e4e4e" stroke-width="1.8"/>
<line x1="669.8" y1="88.2" x2="657.5" y2="99.9" stroke="#4e4e4e" stroke-width="1.8"/>
</svg>
</body></html>
